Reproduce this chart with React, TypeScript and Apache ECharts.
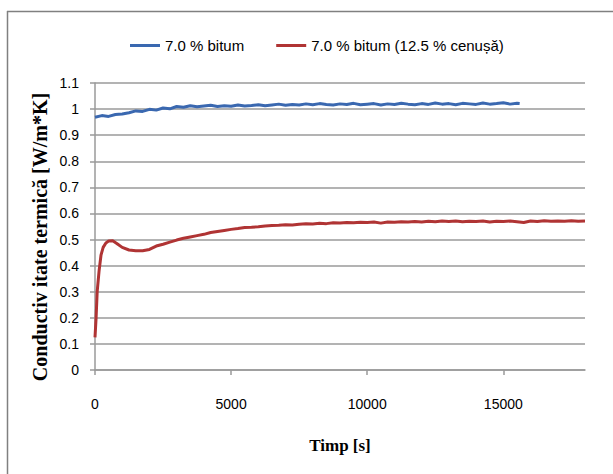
import React, { useEffect, useRef } from "react";
import * as echarts from "echarts";

const seriesNames = ["7.0 % bitum", "7.0 % bitum (12.5 % cenușă)"];

const blueTime = [
  0, 250, 500, 750, 1000, 1250, 1500, 1750, 2000, 2250, 2500, 2750, 3000, 3250, 3500, 3750,
  4000, 4250, 4500, 4750, 5000, 5250, 5500, 5750, 6000, 6250, 6500, 6750, 7000, 7250, 7500, 7750,
  8000, 8250, 8500, 8750, 9000, 9250, 9500, 9750, 10000, 10250, 10500, 10750, 11000, 11250, 11500, 11750,
  12000, 12250, 12500, 12750, 13000, 13250, 13500, 13750, 14000, 14250, 14500, 14750, 15000, 15250, 15500, 15600,
];
const blueValues = [
  0.969, 0.975, 0.972, 0.979, 0.981, 0.986, 0.993, 0.991, 0.999, 0.996, 1.004, 1.001, 1.010, 1.007, 1.013, 1.009,
  1.012, 1.015, 1.010, 1.013, 1.011, 1.016, 1.012, 1.014, 1.017, 1.013, 1.016, 1.019, 1.015, 1.018, 1.016, 1.020,
  1.017, 1.021, 1.018, 1.016, 1.020, 1.018, 1.022, 1.017, 1.019, 1.021, 1.016, 1.020, 1.018, 1.022, 1.019, 1.017,
  1.021, 1.018, 1.023, 1.019, 1.021, 1.017, 1.022, 1.020, 1.018, 1.023, 1.019, 1.021, 1.024, 1.019, 1.022, 1.021,
];

const redTime = [
  0, 40, 80, 150, 220, 300, 400, 500, 650, 800, 1000, 1250, 1500, 1750, 2000, 2250,
  2500, 2750, 3000, 3250, 3500, 3750, 4000, 4250, 4500, 4750, 5000, 5250, 5500, 5750, 6000, 6250,
  6500, 6750, 7000, 7250, 7500, 7750, 8000, 8250, 8500, 8750, 9000, 9250, 9500, 9750, 10000, 10250,
  10500, 10750, 11000, 11250, 11500, 11750, 12000, 12250, 12500, 12750, 13000, 13250, 13500, 13750, 14000, 14250,
  14500, 14750, 15000, 15250, 15500, 15750, 16000, 16250, 16500, 16750, 17000, 17250, 17500, 17750, 18000,
];
const redValues = [
  0.125, 0.2, 0.3, 0.38, 0.44, 0.47, 0.487, 0.494, 0.495, 0.485, 0.47, 0.46, 0.457, 0.457, 0.462, 0.475,
  0.482, 0.49, 0.498, 0.505, 0.51, 0.515, 0.52, 0.527, 0.531, 0.535, 0.539, 0.542, 0.546, 0.547, 0.549, 0.552,
  0.554, 0.555, 0.557, 0.556, 0.559, 0.561, 0.56, 0.562, 0.561, 0.564, 0.563, 0.565, 0.564, 0.566, 0.565, 0.567,
  0.563, 0.567, 0.566, 0.568, 0.567, 0.569, 0.567, 0.57, 0.568, 0.571, 0.569, 0.571, 0.568, 0.57, 0.569, 0.571,
  0.567, 0.57, 0.569, 0.571, 0.568, 0.565, 0.571, 0.569, 0.572, 0.57, 0.571, 0.57, 0.572, 0.57, 0.571,
];

const xAxisTitle = "Timp [s]";
const yAxisTitle = "Conductiv itate termică [W/m*K]";

export default function App() {
  const ref = useRef<HTMLDivElement>(null);
  useEffect(() => {
    if (!ref.current) return;
    const chart = echarts.init(ref.current, null, { renderer: "svg" });
    const gridColor = "#9a9a9a";
    chart.setOption({
      animation: false,
      backgroundColor: "#ffffff",
      grid: { left: 95, top: 83, right: 28, bottom: 104, containLabel: false },
      legend: {
        left: 125,
        top: 33,
        itemWidth: 30,
        itemHeight: 3,
        itemGap: 32,
        icon: "rect",
        textStyle: { fontFamily: "Liberation Sans", fontSize: 15, color: "#000" },
        data: seriesNames,
      },
      xAxis: {
        type: "value",
        min: 0,
        max: 18000,
        interval: 5000,
        axisLine: { show: true, lineStyle: { color: gridColor, width: 1.5 } },
        axisTick: { show: true, length: 5, lineStyle: { color: gridColor, width: 1.5 } },
        axisLabel: {
          margin: 27,
          fontFamily: "Liberation Sans",
          fontSize: 14,
          color: "#000",
          showMaxLabel: false,
          formatter: (v: number) => String(v),
        },
        splitLine: { show: false },
      },
      yAxis: {
        type: "value",
        min: 0,
        max: 1.1,
        interval: 0.1,
        axisLine: { show: true, lineStyle: { color: gridColor, width: 1.5 } },
        axisTick: { show: true, length: 5, lineStyle: { color: gridColor, width: 1.5 } },
        axisLabel: {
          margin: 16,
          fontFamily: "Liberation Sans",
          fontSize: 14,
          color: "#000",
          formatter: (v: number) => String(Math.round(v * 10) / 10),
        },
        splitLine: { show: true, lineStyle: { color: gridColor, width: 1.5 } },
      },
      graphic: [
        {
          type: "line",
          shape: { x1: 7.5, y1: 11, x2: 7.5, y2: 480 },
          style: { stroke: "#808080", lineWidth: 1.5 },
        },
        {
          type: "line",
          shape: { x1: 7, y1: 11.5, x2: 620, y2: 11.5 },
          style: { stroke: "#808080", lineWidth: 1.5 },
        },
        {
          type: "text",
          x: 340,
          y: 445,
          style: {
            text: xAxisTitle,
            fontFamily: "Liberation Serif",
            fontWeight: "bold",
            fontSize: 17,
            fill: "#000",
            align: "center",
            verticalAlign: "middle",
          },
        },
        {
          type: "text",
          x: 40,
          y: 237,
          rotation: Math.PI / 2,
          style: {
            text: yAxisTitle,
            fontFamily: "Liberation Serif",
            fontWeight: "bold",
            fontSize: 20,
            fill: "#000",
            align: "center",
            verticalAlign: "middle",
          },
        },
      ],
      series: [
        {
          name: seriesNames[0],
          type: "line",
          showSymbol: false,
          symbol: "none",
          lineStyle: { width: 3, color: "#3a68b0" },
          itemStyle: { color: "#3a68b0" },
          data: blueTime.map((t, i) => [t, blueValues[i]]),
        },
        {
          name: seriesNames[1],
          type: "line",
          showSymbol: false,
          symbol: "none",
          lineStyle: { width: 3, color: "#b03434" },
          itemStyle: { color: "#b03434" },
          data: redTime.map((t, i) => [t, redValues[i]]),
        },
      ],
    });
    return () => chart.dispose();
  }, []);
  return <div ref={ref} style={{ width: 613, height: 474, position: "absolute", left: 0, top: 0 }} />;
}
